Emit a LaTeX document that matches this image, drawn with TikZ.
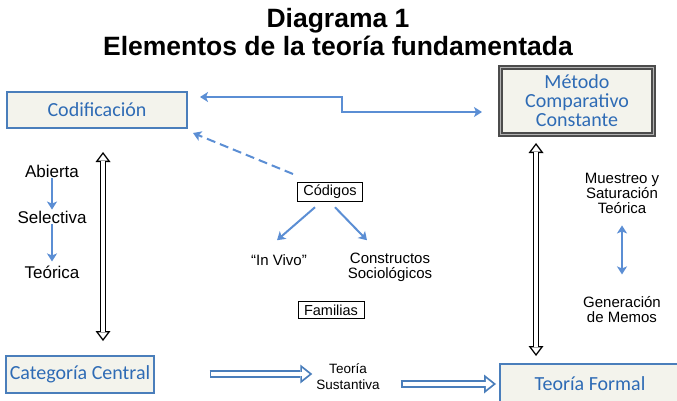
\documentclass[tikz,border=0pt]{standalone}
\usepackage{fontspec}
\setmainfont{Liberation Sans}
\newfontfamily\carlito{Carlito}
\usetikzlibrary{arrows.meta}
\definecolor{boxblue}{HTML}{4A7EBB}
\definecolor{boxtext}{HTML}{2E6BB5}
\definecolor{arrowblue}{HTML}{5B8ED4}
\definecolor{boxfill}{HTML}{F3F3EC}
\tikzset{
  box/.style={draw=boxblue, line width=2pt, fill=boxfill, text=boxtext,
    font=\carlito\fontsize{20}{19}\selectfont, align=center},
  txt/.style={font=\fontsize{15}{15}\selectfont, align=center, inner sep=1pt},
  tag/.style={draw, line width=0.8pt, inner xsep=6pt, inner ysep=3pt,
    font=\fontsize{14.5}{15}\selectfont},
  flow/.style={draw=arrowblue, line width=2pt, -{Stealth[length=8pt,width=10pt,inset=2pt]}},
  twoway/.style={draw=arrowblue, line width=2pt,
    {Stealth[length=8pt,width=10pt,inset=2pt]}-{Stealth[length=8pt,width=10pt,inset=2pt]}},
  hollow/.style={draw=white, line width=3.2pt, shorten >=2.3pt, shorten <=2.3pt,
    {Triangle[length=6.3pt,width=9.4pt,line width=0pt]}-{Triangle[length=6.3pt,width=9.4pt,line width=0pt]},
    preaction={draw=black, line width=6pt, shorten >=0pt, shorten <=0pt,
      {Triangle[length=10pt,width=15pt,line width=0pt]}-{Triangle[length=10pt,width=15pt,line width=0pt]}}},
  bluehollow/.style={draw=white, line width=4.4pt, shorten >=2.9pt, shorten <=1.8pt,
    -{Triangle[length=7.3pt,width=11.6pt,line width=0pt]},
    preaction={draw=boxblue, line width=8pt, shorten >=0pt, shorten <=0pt,
      -{Triangle[length=12pt,width=19pt,line width=0pt]}}}
}
\begin{document}
\begin{tikzpicture}[x=1pt,y=-1pt]
  \useasboundingbox (0,0) rectangle (677,401);
  \node[font=\bfseries\fontsize{26.5}{28}\selectfont, align=center] (title) at (338,32)
    {Diagrama 1\\Elementos de la teoría fundamentada};
  \node[box, minimum width=180pt, minimum height=36pt] (cod) at (97,110) {Codificación};
  \node[box, draw=black!70, line width=1.5pt, double=black!30, double distance=1.5pt,
    minimum width=153pt, minimum height=67pt] (met) at (577,101) {Método\\Comparativo\\Constante};
  \node[box, minimum width=140pt, minimum height=37pt] (cat) at (80,374) {Categoría Central};
  \node[box, minimum width=180pt, minimum height=40pt] (for) at (590,384) {Teoría Formal};
  \node[txt, font=\fontsize{17}{17}\selectfont] (abi) at (52,171) {Abierta};
  \node[txt, font=\fontsize{17}{17}\selectfont] (sel) at (52,217) {Selectiva};
  \node[txt, font=\fontsize{17}{17}\selectfont] (teo) at (52,272) {Teórica};
  \node[tag] (cdg) at (330,192) {Códigos};
  \node[txt] (viv) at (279,260) {“In Vivo”};
  \node[txt] (con) at (390,267) {Constructos\\Sociológicos};
  \node[tag] (fam) at (331,310) {Familias};
  \node[txt, font=\fontsize{13.5}{16}\selectfont] (sus) at (348,377) {Teoría\\Sustantiva};
  \node[txt] (mue) at (622,193) {Muestreo y\\Saturación\\Teórica};
  \node[txt] (gen) at (622,310) {Generación\\de Memos};
  \coordinate (lt) at (103,152);
  \coordinate (lb) at (103,341);
  \coordinate (rt) at (536,143);
  \coordinate (rb) at (536,356);
  \coordinate (c1) at (200,97);
  \coordinate (m1) at (482,112);
  \coordinate (d1) at (293,174);
  \coordinate (d2) at (193,133);
  \begin{scope}
    \draw[hollow] (lt) -- (lb);
    \draw[hollow] (rt) -- (rb);
    \draw[twoway] (c1) -- ++(142,0) |- (m1);
    \draw[flow, dash pattern=on 9pt off 5pt] (d1) -- (d2);
    \draw[flow] (cdg.south) ++(-15,5) -- ++(-38,33);
    \draw[flow] (cdg.south) ++(5,5) -- ++(32,33);
    \draw[flow] (abi.south) -- (sel.north);
    \draw[flow, shorten >=3pt] (sel.south) -- (teo.north);
    \draw[twoway] (mue.south) ++(0,11) -- ++(0,49);
    \draw[bluehollow] ([xshift=55pt]cat.east) -- ([xshift=-3pt]cat.east -| sus.west);
    \draw[bluehollow] ([xshift=20pt]sus.east |- for.west) -- ([xshift=-3pt]for.west);
  \end{scope}
\end{tikzpicture}
\end{document}
